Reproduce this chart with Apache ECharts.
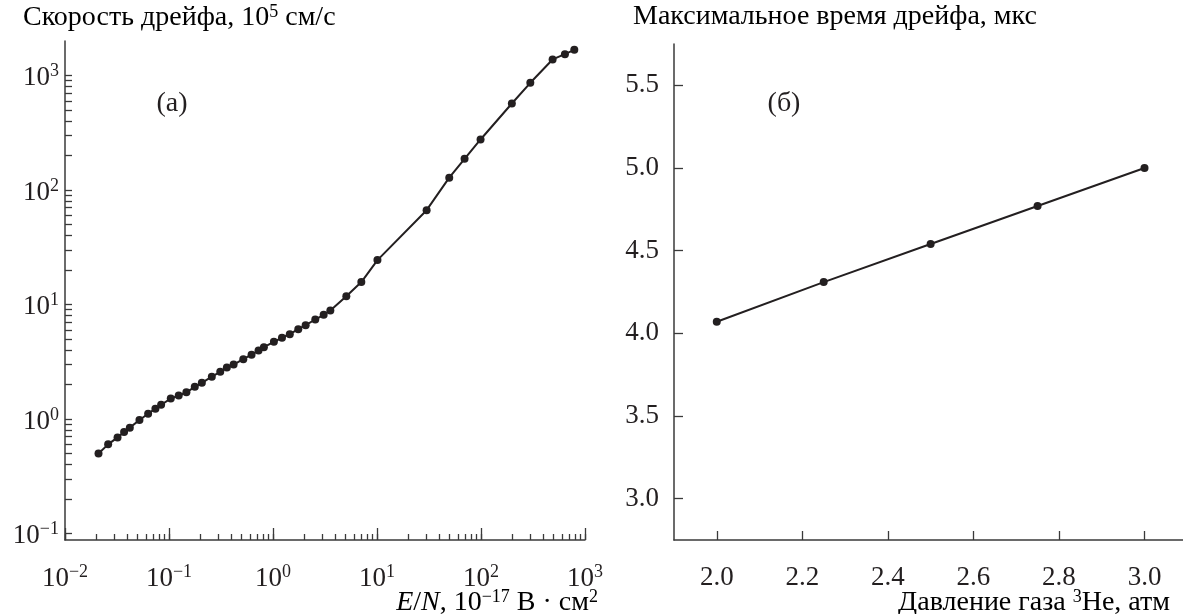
<!DOCTYPE html>
<html>
<head>
<meta charset="utf-8">
<script src="https://cdn.jsdelivr.net/npm/echarts@6/dist/echarts.min.js"></script>
<style>
  html, body { margin: 0; padding: 0; background: #fff; }
  #chart { width: 1183px; height: 614px; }
</style>
</head>
<body>
<div id="chart"></div>
<script>
// (а) скорость дрейфа от E/N
const fieldEN = [0.021, 0.026, 0.032, 0.037, 0.042, 0.052, 0.063, 0.074, 0.084, 0.104,
  0.124, 0.147, 0.177, 0.207, 0.258, 0.311, 0.36, 0.418, 0.518, 0.622,
  0.726, 0.817, 1.02, 1.22, 1.45, 1.75, 2.06, 2.55, 3.07, 3.56,
  5.07, 7.07, 10.1, 30.0, 49.5, 69.5, 99, 198, 298, 488, 641, 789];
const driftVel = [0.50, 0.60, 0.69, 0.77, 0.84, 0.98, 1.11, 1.23, 1.33, 1.51,
  1.60, 1.71, 1.91, 2.07, 2.34, 2.58, 2.82, 2.99, 3.33, 3.64,
  3.96, 4.24, 4.72, 5.12, 5.50, 6.09, 6.59, 7.39, 8.13, 8.87,
  11.8, 15.7, 24.4, 66.6, 128, 187, 276, 569, 863, 1380, 1535, 1676];

// (б) максимальное время дрейфа от давления
const pressure = [2.0, 2.25, 2.5, 2.75, 3.0];
const maxTime = [4.07, 4.31, 4.54, 4.77, 5.0];

// подписи осей
const logXMajor = [0.01, 0.1, 1, 10, 100, 1000];
const logYMajor = [0.1, 1, 10, 100, 1000];
const pressTicks = [2.0, 2.2, 2.4, 2.6, 2.8, 3.0];
const timeTicks = [3.0, 3.5, 4.0, 4.5, 5.0, 5.5];

const FONT = '"Liberation Serif", "DejaVu Serif", serif';
const INK = '#231f20';
const AXIS = '#3a3a3a';
const FS = 27;   // подписи делений
const FT = 28;   // названия осей

// все деления лог-шкалы (1..9 в каждой декаде)
function logMinor(fromExp, toExp) {
  const out = [];
  for (let e = fromExp; e <= toExp; e++) {
    for (let k = 1; k <= 9; k++) out.push(+(k * Math.pow(10, e)).toPrecision(3));
  }
  return out;
}

function makeRich(size, sup) {
  return {
    b: { fontFamily: FONT, fontSize: size, color: INK, verticalAlign: 'bottom', lineHeight: 32 },
    s: { fontFamily: FONT, fontSize: sup, color: INK, verticalAlign: 'bottom', lineHeight: 32, padding: [0, 0, 11, 0] },
    i: { fontFamily: FONT, fontSize: size, color: INK, fontStyle: 'italic', verticalAlign: 'bottom', lineHeight: 32 }
  };
}
const richTick = makeRich(FS, 18);
const richTitle = makeRich(FT, 18);

function powLabel(v) {
  const e = Math.round(Math.log10(v));
  return '{b|10}{s|' + String(e).replace('-', '\u2212') + '}';
}

const lineAxis = { show: true, lineStyle: { color: AXIS, width: 1.5 } };

const chart = echarts.init(document.getElementById('chart'), null, { renderer: 'canvas' });

chart.setOption({
  animation: false,
  backgroundColor: '#fff',
  grid: [
    { left: 65, top: 41, width: 520, height: 499, containLabel: false },
    { left: 674, top: 44, right: 0, height: 496, containLabel: false }
  ],
  xAxis: [
    { // минорные деления
      type: 'log', gridIndex: 0, position: 'bottom', min: 0.01, max: 1000,
      axisLine: lineAxis,
      axisTick: { show: true, inside: true, length: 6, lineStyle: { color: AXIS, width: 1.3 },
        customValues: logMinor(-2, 2).concat([1000]) },
      axisLabel: { show: false },
      splitLine: { show: false }
    },
    { // основные деления и подписи
      type: 'log', gridIndex: 0, position: 'bottom', min: 0.01, max: 1000,
      axisLine: { show: false },
      axisTick: { show: true, inside: true, length: 12, lineStyle: { color: AXIS, width: 1.3 },
        customValues: logXMajor },
      axisLabel: { show: true, margin: 20, customValues: logXMajor, formatter: powLabel, rich: richTick },
      splitLine: { show: false }
    },
    {
      type: 'value', gridIndex: 1, position: 'bottom', min: 1.9, max: 3.09,
      axisLine: lineAxis,
      axisTick: { show: true, inside: true, length: 9, lineStyle: { color: AXIS, width: 1.3 },
        customValues: pressTicks },
      axisLabel: { show: true, margin: 24, customValues: pressTicks,
        formatter: v => v.toFixed(1), fontFamily: FONT, fontSize: FS, color: INK },
      splitLine: { show: false }
    }
  ],
  yAxis: [
    {
      type: 'log', gridIndex: 0, min: 0.0877, max: 2000,
      axisLine: lineAxis,
      axisTick: { show: true, inside: true, length: 7, lineStyle: { color: AXIS, width: 1.3 },
        customValues: logMinor(-1, 2).concat([1000]) },
      axisLabel: { show: true, margin: 6, customValues: logYMajor, formatter: powLabel, rich: richTick },
      splitLine: { show: false }
    },
    {
      type: 'value', gridIndex: 1, min: 2.75, max: 5.75,
      axisLine: lineAxis,
      axisTick: { show: true, inside: true, length: 9, lineStyle: { color: AXIS, width: 1.3 },
        customValues: timeTicks },
      axisLabel: { show: true, margin: 15, customValues: timeTicks,
        formatter: v => v.toFixed(1), fontFamily: FONT, fontSize: FS, color: INK },
      splitLine: { show: false }
    }
  ],
  series: [
    {
      type: 'line', xAxisIndex: 0, yAxisIndex: 0,
      data: fieldEN.map((x, i) => [x, driftVel[i]]),
      symbol: 'circle', symbolSize: 8,
      itemStyle: { color: INK },
      lineStyle: { color: INK, width: 2 }
    },
    {
      type: 'line', xAxisIndex: 2, yAxisIndex: 1,
      data: pressure.map((x, i) => [x, maxTime[i]]),
      symbol: 'circle', symbolSize: 8,
      itemStyle: { color: INK },
      lineStyle: { color: INK, width: 2 }
    }
  ],
  graphic: [
    { type: 'text', left: 23, top: 3,
      style: { text: '{b|Скорость дрейфа, 10}{s|5}{b| см/с}', rich: richTitle } },
    { type: 'text', left: 633, top: 3,
      style: { text: '{b|Максимальное время дрейфа, мкс}', rich: richTitle } },
    { type: 'text', x: 172, y: 104,
      style: { text: '(а)', font: FT + 'px ' + FONT, fill: INK, align: 'center', verticalAlign: 'middle' } },
    { type: 'text', x: 784, y: 104,
      style: { text: '(б)', font: FT + 'px ' + FONT, fill: INK, align: 'center', verticalAlign: 'middle' } },
    { type: 'text', right: 585, bottom: -3,
      style: { text: '{i|E}{b|/}{i|N}{b|, 10}{s|\u221217}{b| В · см}{s|2}', rich: richTitle } },
    { type: 'text', right: 13, bottom: -3,
      style: { text: '{b|Давление газа }{s|3}{b|He, атм}', rich: richTitle } }
  ]
});
</script>
</body>
</html>
